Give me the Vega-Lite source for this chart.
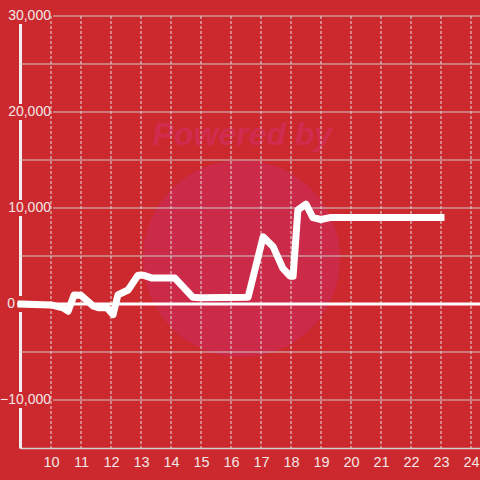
{
  "$schema": "https://vega.github.io/schema/vega-lite/v6.json",
  "width": 460,
  "height": 432,
  "autosize": "none",
  "padding": {"left": 20, "top": 16, "right": 0, "bottom": 32},
  "background": "#cc292e",
  "config": {
    "view": {"stroke": null},
    "font": "Liberation Sans",
    "axisX": {"labelOverlap": false, "tickCount": 16, "title": null, "grid": false, "ticks": false, "domainColor": "#cfcfcf", "domainWidth": 1.5, "labelColor": "#f2e6e6", "labelFontSize": 14.5, "labelPadding": 7, "labelFont": "Liberation Sans", "labelFlush": false},
    "axisY": {"title": null, "labels": false, "ticks": false, "grid": false, "domainColor": "#eeeeee", "domainWidth": 3}
  },
  "datasets": {
    "series": [
      {"x": 9.0, "y": 0},
      {"x": 10.0, "y": -100},
      {"x": 10.4, "y": -400},
      {"x": 10.57, "y": -750},
      {"x": 10.77, "y": 940},
      {"x": 11.0, "y": 900},
      {"x": 11.4, "y": -200},
      {"x": 11.6, "y": -400},
      {"x": 11.87, "y": -400},
      {"x": 12.07, "y": -1100},
      {"x": 12.23, "y": 940},
      {"x": 12.57, "y": 1460},
      {"x": 12.9, "y": 3000},
      {"x": 13.07, "y": 3000},
      {"x": 13.37, "y": 2700},
      {"x": 14.13, "y": 2700},
      {"x": 14.73, "y": 700},
      {"x": 14.97, "y": 650},
      {"x": 16.57, "y": 700},
      {"x": 17.07, "y": 7000},
      {"x": 17.4, "y": 6000},
      {"x": 17.73, "y": 3700},
      {"x": 17.97, "y": 2900},
      {"x": 18.07, "y": 2900},
      {"x": 18.23, "y": 9800},
      {"x": 18.5, "y": 10400},
      {"x": 18.73, "y": 9000},
      {"x": 19.0, "y": 8800},
      {"x": 19.3, "y": 9000},
      {"x": 23.0, "y": 9000}
    ],
    "vgrid": [{"v": 10}, {"v": 11}, {"v": 12}, {"v": 13}, {"v": 14}, {"v": 15}, {"v": 16}, {"v": 17}, {"v": 18}, {"v": 19}, {"v": 20}, {"v": 21}, {"v": 22}, {"v": 23}, {"v": 24}],
    "minorgrid": [{"v": 25000}, {"v": 15000}, {"v": 5000}, {"v": -5000}],
    "majorgrid": [{"v": 30000}, {"v": 20000}, {"v": 10000}, {"v": -10000}],
    "ylabels": [{"v": 30000}, {"v": 20000}, {"v": 10000}, {"v": 0}, {"v": -10000}]
  },
  "resolve": {"scale": {"x": "shared", "y": "shared"}},
  "layer": [
    {
      "data": {"name": "vgrid"},
      "mark": {"type": "rule", "color": "#e2e2e2", "strokeWidth": 1, "strokeDash": [3, 2], "opacity": 0},
      "encoding": {
        "x": {"field": "v", "type": "quantitative", "scale": {"domain": [8.967, 24.3], "nice": false, "zero": false}, "axis": {"values": [10, 11, 12, 13, 14, 15, 16, 17, 18, 19, 20, 21, 22, 23, 24], "labelOverlap": false}},
        "y": {"datum": 0, "type": "quantitative", "scale": {"domain": [-15000, 30000], "nice": false, "zero": false}}
      }
    },
    {
      "data": {"name": "series"},
      "transform": [{"filter": "datum.x == 9"}],
      "mark": {"type": "point", "filled": true, "size": 38800, "color": "#cb2a48", "opacity": 1, "strokeWidth": 0},
      "encoding": {
        "x": {"datum": 16.35, "type": "quantitative"},
        "y": {"datum": 4740, "type": "quantitative"}
      }
    },
    {
      "data": {"name": "series"},
      "transform": [{"filter": "datum.x == 9"}],
      "mark": {"type": "text", "text": "Powered by", "fontSize": 32, "fontWeight": "bold", "fontStyle": "italic", "font": "Liberation Sans", "color": "#d02c4f", "align": "center", "baseline": "alphabetic"},
      "encoding": {
        "x": {"datum": 16.38, "type": "quantitative"},
        "y": {"datum": 16570, "type": "quantitative"}
      }
    },
    {
      "data": {"name": "vgrid"},
      "mark": {"type": "rule", "color": "#e2e2e2", "strokeWidth": 1, "strokeDash": [3, 2]},
      "encoding": {"x": {"field": "v", "type": "quantitative"}}
    },
    {
      "data": {"name": "minorgrid"},
      "mark": {"type": "rule", "color": "#cccccc", "strokeWidth": 1},
      "encoding": {"y": {"field": "v", "type": "quantitative"}}
    },
    {
      "data": {"name": "majorgrid"},
      "mark": {"type": "rule", "color": "#cccccc", "strokeWidth": 1},
      "encoding": {
        "y": {"field": "v", "type": "quantitative"},
        "x": {"datum": 10.07, "type": "quantitative"},
        "x2": {"datum": 24.3}
      }
    },
    {
      "data": {"name": "ylabels"},
      "mark": {"type": "square", "filled": true, "size": 256, "color": "#cc292e", "strokeWidth": 0, "opacity": 1},
      "encoding": {
        "y": {"field": "v", "type": "quantitative"},
        "x": {"datum": 9.0, "type": "quantitative"}
      }
    },
    {
      "data": {"name": "ylabels"},
      "transform": [{"filter": "datum.v != 0"}],
      "mark": {"type": "text", "align": "right", "baseline": "middle", "fontSize": 14, "font": "Liberation Sans", "color": "#f2e6e6"},
      "encoding": {
        "y": {"field": "v", "type": "quantitative"},
        "x": {"datum": 10.0, "type": "quantitative"},
        "text": {"field": "v", "type": "quantitative", "format": ","}
      }
    },
    {
      "data": {"name": "ylabels"},
      "transform": [{"filter": "datum.v == 0"}],
      "mark": {"type": "text", "align": "right", "baseline": "middle", "fontSize": 14, "font": "Liberation Sans", "color": "#f2e6e6"},
      "encoding": {
        "y": {"field": "v", "type": "quantitative"},
        "x": {"datum": 8.8, "type": "quantitative"},
        "text": {"field": "v", "type": "quantitative", "format": ","}
      }
    },
    {
      "data": {"name": "ylabels"},
      "transform": [{"filter": "datum.v == 0"}],
      "mark": {"type": "rule", "color": "#ffffff", "strokeWidth": 3},
      "encoding": {
        "y": {"field": "v", "type": "quantitative"},
        "x": {"datum": 8.87, "type": "quantitative"},
        "x2": {"datum": 24.3}
      }
    },
    {
      "data": {"name": "series"},
      "mark": {"type": "line", "color": "#ffffff", "strokeWidth": 7, "strokeCap": "square", "strokeJoin": "round", "interpolate": "linear"},
      "encoding": {
        "x": {"field": "x", "type": "quantitative"},
        "y": {"field": "y", "type": "quantitative"}
      }
    }
  ]
}
